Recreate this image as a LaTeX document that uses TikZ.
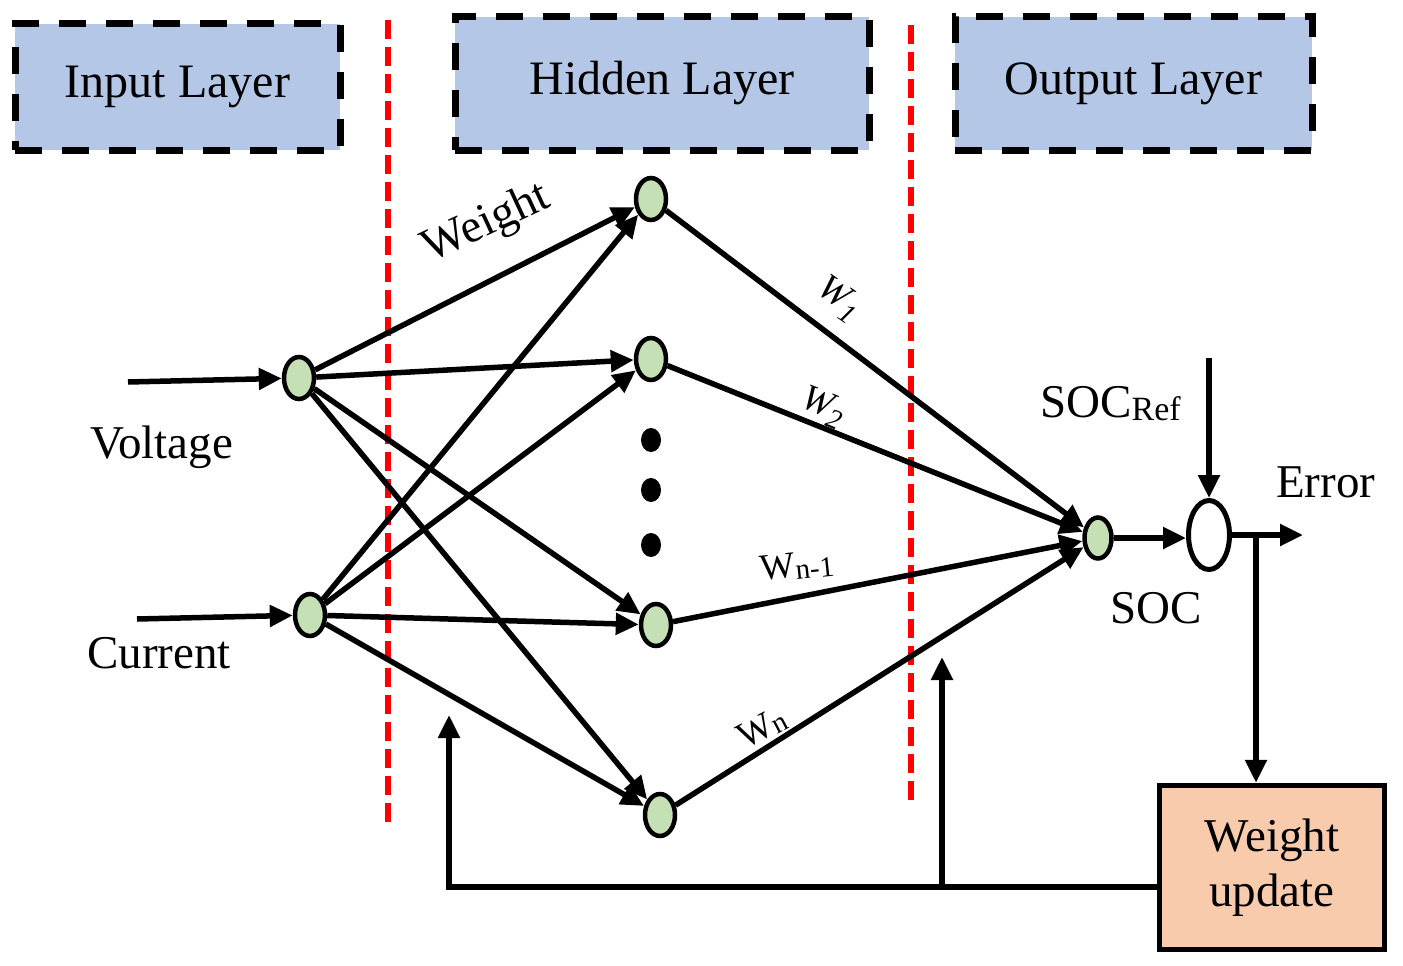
\documentclass[tikz,border=0pt]{standalone}
\usepackage{fontspec}
\setmainfont{Liberation Serif}
\usetikzlibrary{arrows.meta,shapes.geometric}
\definecolor{layerblue}{HTML}{B4C7E7}
\definecolor{neurongreen}{HTML}{C5E0B4}
\definecolor{wuorange}{HTML}{F8CBAD}
\begin{document}
\begin{tikzpicture}[x=1pt,y=-1pt,
  layerbox/.style={draw, line width=7pt, dash pattern=on 27pt off 20pt, fill=layerblue, inner sep=0pt, font=\fontsize{48}{58}\selectfont},
  neuron/.style={ellipse, draw, line width=4.5pt, fill=neurongreen, minimum width=30pt, minimum height=42pt, inner sep=0pt},
  arr/.style={line width=5.5pt, -{Triangle[length=23pt,width=21pt]}},
  reddash/.style={red, line width=5.5pt, dash pattern=on 19pt off 8pt},
  lab/.style={inner sep=0pt, font=\fontsize{47}{56}\selectfont},
  wlab/.style={inner sep=0pt, font=\fontsize{37}{44}\selectfont},
]
\useasboundingbox (0,0) rectangle (1403,966);

% layer boxes
\node[layerbox, minimum width=325pt, minimum height=126pt] (inbox) at (177.5,87) {Input Layer};
\node[layerbox, minimum width=414pt, minimum height=133pt] (hidbox) at (662,83.5) {Hidden Layer};
\node[layerbox, minimum width=357pt, minimum height=133pt] (outbox) at (1133.5,83.5) {Output Layer};

% red separators
\coordinate (s1t) at (388,20);
\coordinate (s1b) at (388,827);
\coordinate (s2t) at (911,25);
\coordinate (s2b) at (911,807);
\draw[reddash] (s1t) -- (s1b);
\draw[reddash] (s2t) -- (s2b);

% neurons
\node[neuron] (V) at (299,378) {};
\node[neuron] (C) at (310,615) {};
\node[neuron] (H1) at (651,199) {};
\node[neuron] (H2) at (651,359) {};
\node[neuron] (H3) at (656,625) {};
\node[neuron] (H4) at (660,815) {};
\node[neuron, minimum width=27pt, minimum height=41pt] (SOC) at (1098,538) {};
\node[ellipse, draw, line width=5pt, fill=white, minimum width=41pt, minimum height=69pt, inner sep=0pt] (SUM) at (1209,535) {};

% dots
\fill (651,440) ellipse (10pt and 12pt);
\fill (651,490) ellipse (10pt and 12pt);
\fill (651,545) ellipse (10pt and 12pt);

% weight update box
\node[draw, line width=5.5pt, fill=wuorange, minimum width=225pt, minimum height=164pt, inner sep=0pt, align=center, font=\fontsize{47}{55}\selectfont] (WU) at (1272,867.5) {Weight\\update};

% inputs
\coordinate (vin) at (128,382);
\coordinate (cin) at (137,619);
\draw[arr] (vin) -- (V);
\draw[arr] (cin) -- (C);

% input -> hidden
\foreach \h in {H1,H2,H3,H4} {
  \draw[arr] (V) -- (\h);
  \draw[arr] (C) -- (\h);
}
% hidden -> output
\foreach \h in {H1,H2,H3,H4} {
  \draw[arr] (\h) -- (SOC);
}
\draw[arr] (SOC.east) -- (SOC.east -| SUM.west);

% reference and error
\coordinate (reftop) at (1209,358);
\draw[arr] (reftop) -- (SUM.north);
\coordinate (errend) at (1303,535);
\coordinate (br) at (1256,535);
\draw[arr] (SUM.east) -- (errend);
\draw[arr] (br) -- (br |- WU.north);

% feedback
\coordinate (fbcorner) at (449,887);
\coordinate (fbL) at (449,715);
\coordinate (fbR) at (942,657);
\draw[arr, line join=miter] (fbcorner -| WU.west) -- (fbcorner) -- (fbL);
\draw[arr] (fbcorner -| fbR) -- (fbR);

% labels
\node[lab, anchor=base west] (lvolt) at (90,458) {Voltage};
\node[lab, anchor=base west] (lcurr) at (87,668) {Current};
\node[lab, rotate=25] (lweight) at (487,224) {Weight};
\node[lab, anchor=base west] (lref) at (1040,417) {SOC\raisebox{-3pt}{\fontsize{34}{34}\selectfont Ref}};
\node[lab, anchor=base west] (lerr) at (1276,497) {Error};
\node[lab, anchor=base west] (lsoc) at (1110,623) {SOC};
\node[wlab, rotate=-35] (lw1) at (839,299) {\itshape W\raisebox{-8pt}{\fontsize{28}{28}\selectfont 1}};
\node[wlab, rotate=-22] (lw2) at (823,407) {\itshape W\raisebox{-8pt}{\fontsize{28}{28}\selectfont 2}};
\node[wlab, rotate=6] (lwn1) at (797,566) {W\raisebox{-3pt}{\fontsize{29}{29}\selectfont n-1}};
\node[wlab, rotate=28] (lwn) at (762,728) {W\raisebox{-2pt}{\fontsize{29}{29}\selectfont n}};
\end{tikzpicture}
\end{document}
